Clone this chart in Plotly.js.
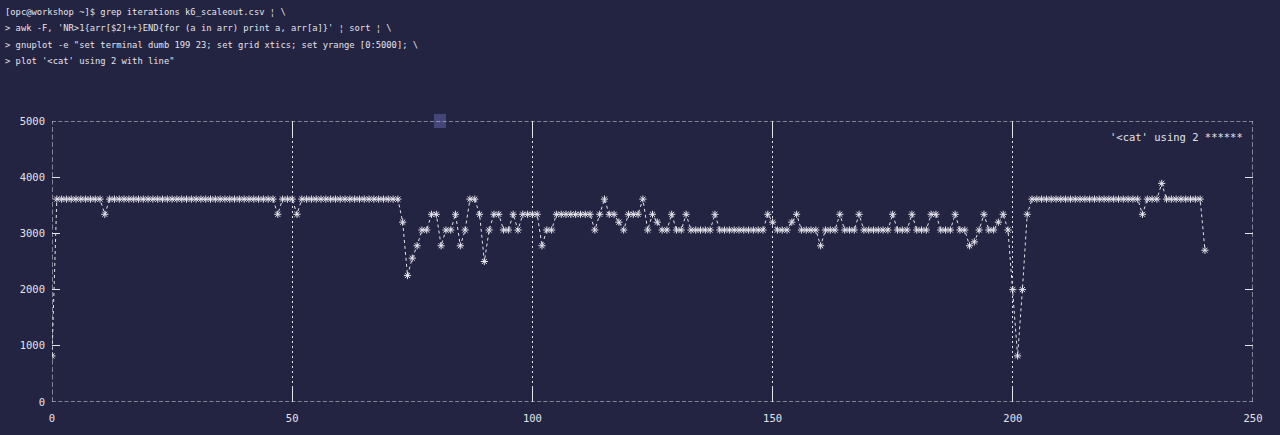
<!DOCTYPE html>
<html>
<head>
<meta charset="utf-8">
<script src="https://cdn.plot.ly/plotly-3.0.1.min.js"></script>
<style>
  html, body { margin: 0; padding: 0; background: #232342; }
  #chart { width: 1280px; height: 435px; }
</style>
</head>
<body>
<div id="chart"></div>
<script>
// Iterations counted per second (gnuplot "using 2": x is the row index)
const iterations = [
  820, 3610, 3610, 3610, 3610, 3610, 3610, 3610, 3610, 3610,
  3610, 3340, 3610, 3610, 3610, 3610, 3610, 3610, 3610, 3610,
  3610, 3610, 3610, 3610, 3610, 3610, 3610, 3610, 3610, 3610,
  3610, 3610, 3610, 3610, 3610, 3610, 3610, 3610, 3610, 3610,
  3610, 3610, 3610, 3610, 3610, 3610, 3610, 3340, 3610, 3610,
  3610, 3340, 3610, 3610, 3610, 3610, 3610, 3610, 3610, 3610,
  3610, 3610, 3610, 3610, 3610, 3610, 3610, 3610, 3610, 3610,
  3610, 3610, 3610, 3200, 2250, 2560, 2780, 3060, 3060, 3340,
  3340, 2780, 3060, 3060, 3340, 2780, 3060, 3610, 3610, 3340,
  2500, 3060, 3340, 3340, 3060, 3060, 3340, 3060, 3340, 3340,
  3340, 3340, 2780, 3060, 3060, 3340, 3340, 3340, 3340, 3340,
  3340, 3340, 3340, 3060, 3340, 3610, 3340, 3340, 3200, 3060,
  3340, 3340, 3340, 3610, 3060, 3340, 3200, 3060, 3060, 3340,
  3060, 3060, 3340, 3060, 3060, 3060, 3060, 3060, 3340, 3060,
  3060, 3060, 3060, 3060, 3060, 3060, 3060, 3060, 3060, 3340,
  3200, 3060, 3060, 3060, 3200, 3340, 3060, 3060, 3060, 3060,
  2780, 3060, 3060, 3060, 3340, 3060, 3060, 3060, 3340, 3060,
  3060, 3060, 3060, 3060, 3060, 3340, 3060, 3060, 3060, 3340,
  3060, 3060, 3060, 3340, 3340, 3060, 3060, 3060, 3340, 3060,
  3060, 2780, 2850, 3060, 3340, 3060, 3060, 3200, 3340, 3060,
  2000, 820, 2000, 3340, 3610, 3610, 3610, 3610, 3610, 3610,
  3610, 3610, 3610, 3610, 3610, 3610, 3610, 3610, 3610, 3610,
  3610, 3610, 3610, 3610, 3610, 3610, 3610, 3340, 3610, 3610,
  3610, 3890, 3610, 3610, 3610, 3610, 3610, 3610, 3610, 3610,
  2700
];

const commandLines = [
  "[opc@workshop ~]$ grep iterations k6_scaleout.csv ¦ \\",
  "&gt; awk -F, 'NR&gt;1{arr[$2]++}END{for (a in arr) print a, arr[a]}' ¦ sort ¦ \\",
  "&gt; gnuplot -e \"set terminal dumb 199 23; set grid xtics; set yrange [0:5000]; \\",
  "&gt; plot '&lt;cat' using 2 with line\""
];
const legendText = "'&lt;cat' using 2 ******";

const xTicks = [0, 50, 100, 150, 200, 250];
const yTicks = [0, 1000, 2000, 3000, 4000, 5000];

const BG = '#232342';
const FG = '#e4e4ea';
const MONO = '"DejaVu Sans Mono", "Liberation Mono", monospace';

const trace = {
  y: iterations,
  type: 'scatter',
  mode: 'lines+markers',
  line: { color: FG, width: 1, dash: 'dot' },
  marker: { symbol: 'asterisk-open', size: 6, color: FG, line: { color: FG, width: 1 } },
  showlegend: false,
  hoverinfo: 'x+y'
};

const lineY = [1.3879, 1.3310, 1.2705, 1.2135];
const annotations = commandLines.map((t, i) => ({
  text: t, xref: 'paper', yref: 'paper', x: -0.0405, y: lineY[i],
  xanchor: 'left', yanchor: 'middle', showarrow: false,
  font: { family: MONO, size: 8.8, color: FG }
}));
annotations.push({
  text: legendText, xref: 'paper', yref: 'paper', x: 0.9935, y: 0.943,
  xanchor: 'right', yanchor: 'middle', showarrow: false,
  font: { family: MONO, size: 10.5, color: FG }
});

const borderH = { color: FG, width: 1, dash: '4px,2.3px' };
const borderV = { color: FG, width: 1, dash: '5px,2.5px' };
const shapes = [
  { type: 'rect', xref: 'paper', yref: 'paper', x0: 0.318, x1: 0.328, y0: 0.975, y1: 1.025,
    fillcolor: '#45457a', line: { width: 0 }, layer: 'below' },
  { type: 'line', xref: 'x', yref: 'y', x0: 0, x1: 250, y0: 5000, y1: 5000, line: borderH },
  { type: 'line', xref: 'x', yref: 'y', x0: 0, x1: 250, y0: 0, y1: 0, line: borderH },
  { type: 'line', xref: 'x', yref: 'y', x0: 0, x1: 0, y0: 0, y1: 5000, line: borderV },
  { type: 'line', xref: 'x', yref: 'y', x0: 250, x1: 250, y0: 0, y1: 5000, line: borderV }
];

const layout = {
  width: 1280, height: 435,
  margin: { l: 52, r: 27, t: 121, b: 33, pad: 0 },
  paper_bgcolor: BG, plot_bgcolor: BG,
  font: { family: MONO, size: 10.5, color: FG },
  xaxis: {
    range: [0, 250], tickvals: xTicks, ticktext: xTicks.map(String),
    showgrid: true, gridcolor: FG, gridwidth: 1, griddash: '2px,3px',
    zeroline: false, showline: false,
    ticks: 'inside', ticklen: 16, tickwidth: 1, tickcolor: FG, mirror: 'ticks',
    ticklabelstandoff: 8,
    tickfont: { family: MONO, size: 10.5, color: FG }
  },
  yaxis: {
    range: [0, 5000], tickvals: yTicks, ticktext: yTicks.map(String),
    showgrid: false, zeroline: false, showline: false,
    ticks: 'inside', ticklen: 8, tickwidth: 1.3, tickcolor: FG, mirror: 'ticks',
    ticklabelstandoff: 6,
    tickfont: { family: MONO, size: 10.5, color: FG }
  },
  annotations: annotations,
  shapes: shapes,
  showlegend: false
};

Plotly.newPlot('chart', [trace], layout, { displayModeBar: false, staticPlot: true });
</script>
</body>
</html>
